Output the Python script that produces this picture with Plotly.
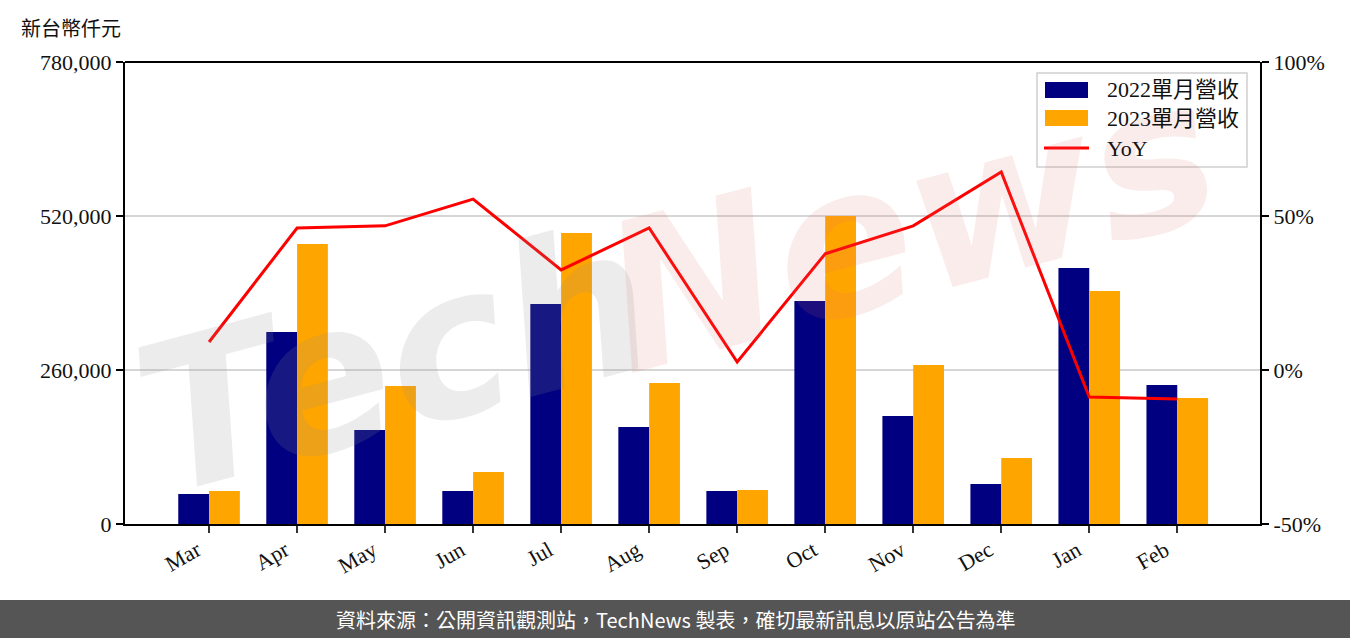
import plotly.graph_objects as go

months = ["Mar", "Apr", "May", "Jun", "Jul", "Aug", "Sep", "Oct", "Nov", "Dec", "Jan", "Feb"]
rev_2022 = [50650, 324100, 158700, 55700, 371400, 163800, 55700, 376500, 182300, 67500, 432200, 234600]
rev_2023 = [55700, 472700, 233000, 87800, 491200, 238000, 57400, 520000, 268400, 111400, 393300, 212700]
yoy = [9.1, 46.1, 46.8, 55.5, 32.5, 46.1, 2.6, 37.7, 46.8, 64.3, -8.8, -9.4]

left_ticks = [0, 260000, 520000, 780000]
left_labels = ["0", "260,000", "520,000", "780,000"]
right_ticks = [-50, 0, 50, 100]
right_labels = ["-50%", "0%", "50%", "100%"]
series_names = ["2022單月營收", "2023單月營收", "YoY"]
colors = ["#000080", "#FFA500", "#FF0000"]

serif = "Liberation Serif, Noto Sans CJK TC, serif"
idx = list(range(len(months)))

# plot area in pixels
L, R, T, B = 125, 1260, 62, 524
W, H = R - L, B - T


def px(x):
    return (x - L) / W


def py(y):
    return (B - y) / H


fig = go.Figure()
fig.add_trace(go.Bar(x=[i - 0.175 for i in idx], y=rev_2022, width=0.35, name=series_names[0],
                     marker=dict(color=colors[0], line=dict(width=0))))
fig.add_trace(go.Bar(x=[i + 0.175 for i in idx], y=rev_2023, width=0.35, name=series_names[1],
                     marker=dict(color=colors[1], line=dict(width=0))))
fig.add_trace(go.Scatter(x=idx, y=yoy, name=series_names[2], mode="lines", yaxis="y2",
                         line=dict(color=colors[2], width=3)))

# watermark
fig.add_annotation(text="<b><i>Tech</i></b>", xref="paper", yref="paper", x=px(395), y=py(360),
                   xanchor="center", yanchor="middle",
                   showarrow=False, textangle=-15,
                   font=dict(size=205, color="rgba(140,140,140,0.17)", family="DejaVu Sans"))
fig.add_annotation(text="<b><i>News</i></b>", xref="paper", yref="paper", x=px(910), y=py(225),
                   xanchor="center", yanchor="middle",
                   showarrow=False, textangle=-15,
                   font=dict(size=205, color="rgba(225,110,110,0.13)", family="DejaVu Sans"))

fig.update_layout(
    width=1350, height=638,
    margin=dict(l=L, r=1350 - R, t=T, b=638 - B, autoexpand=False),
    plot_bgcolor="white", paper_bgcolor="white",
    barmode="overlay",
    showlegend=False,
    xaxis=dict(range=[-0.955, 11.94], tickmode="array", tickvals=idx, ticktext=months,
               tickangle=-30, ticks="outside", ticklen=7, tickwidth=2, tickcolor="#333333",
               ticklabelshift=-12, ticklabelstandoff=-4,
               showgrid=False, zeroline=False, showline=True, linecolor="black", linewidth=2,
               automargin=False, tickfont=dict(family=serif, size=22, color="#111111")),
    yaxis=dict(range=[0, 780000], tickmode="array", tickvals=left_ticks, ticktext=left_labels,
               ticks="outside", ticklen=7, tickwidth=2, tickcolor="black",
               showgrid=True, gridcolor="#d6d6d6", gridwidth=1.5, zeroline=False,
               showline=True, linecolor="black", linewidth=2, automargin=False,
               tickfont=dict(family=serif, size=22, color="#111111")),
    yaxis2=dict(range=[-50, 100], overlaying="y", side="right", tickmode="array",
                tickvals=right_ticks, ticktext=right_labels, ticks="outside", ticklen=7,
                tickwidth=2, tickcolor="black", showgrid=False, zeroline=False,
                showline=True, linecolor="black", linewidth=2, automargin=False,
                tickfont=dict(family=serif, size=22, color="#111111")),
)

# top spine
fig.add_shape(type="line", xref="paper", yref="paper", x0=0, x1=1, y0=1, y1=1,
              line=dict(color="black", width=2))

# custom legend
fig.add_shape(type="rect", xref="paper", yref="paper", x0=px(1037), x1=px(1247),
              y0=py(167), y1=py(73), fillcolor="rgba(255,255,255,0.85)",
              line=dict(color="#d0d0d0", width=1.5), layer="above")
legend_rows = [90, 118, 148]
for k, (name, col, yy) in enumerate(zip(series_names, colors, legend_rows)):
    if k < 2:
        fig.add_shape(type="rect", xref="paper", yref="paper", x0=px(1045), x1=px(1088),
                      y0=py(yy + 8), y1=py(yy - 8), fillcolor=col, line=dict(width=0), layer="above")
    else:
        fig.add_shape(type="line", xref="paper", yref="paper", x0=px(1044), x1=px(1089),
                      y0=py(yy), y1=py(yy), line=dict(color=col, width=3), layer="above")
    fig.add_annotation(text=name, xref="paper", yref="paper", x=px(1105), y=py(yy),
                       xanchor="left", yanchor="middle", showarrow=False,
                       font=dict(family=serif, size=22, color="#111111"))

# unit label
fig.add_annotation(text="新台幣仟元", xref="paper", yref="paper", x=px(19), y=py(27),
                   xanchor="left", yanchor="middle", showarrow=False,
                   font=dict(family="Noto Sans CJK TC", size=20, color="#111111"))

# footer band
fig.add_shape(type="rect", xref="paper", yref="paper", x0=px(-5), x1=px(1355),
              y0=py(640), y1=py(600), fillcolor="#555555", line=dict(width=0), layer="above")
fig.add_annotation(text="資料來源：公開資訊觀測站，TechNews 製表，確切最新訊息以原站公告為準",
                   xref="paper", yref="paper", x=px(675), y=py(619),
                   xanchor="center", yanchor="middle", showarrow=False,
                   font=dict(family="Noto Sans CJK TC", size=20, color="white"))

fig.write_html("out.html", config={"displayModeBar": False},
               post_script="document.body.style.margin='0';document.body.style.overflow='hidden';")
